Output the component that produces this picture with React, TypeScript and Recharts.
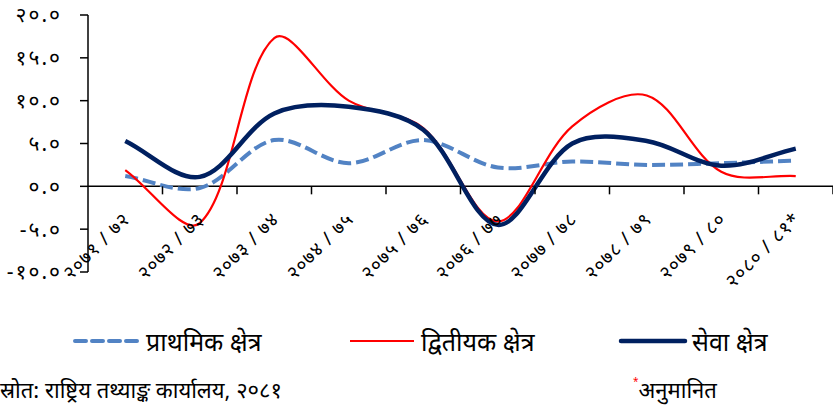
import { LineChart, Line, XAxis, YAxis, ReferenceLine, Legend } from 'recharts';

const categories = [
    '२०७१ / ७२',
    '२०७२ / ७३',
    '२०७३ / ७४',
    '२०७४ / ७५',
    '२०७५ / ७६',
    '२०७६ / ७७',
    '२०७७ / ७८',
    '२०७८ / ७९',
    '२०७९ / ८०',
    '२०८० / ८१*',
];

const primary = [1.2, -0.2, 5.4, 2.7, 5.4, 2.2, 2.9, 2.5, 2.7, 3.0];
const secondary = [1.9, -4.3, 17.3, 10.0, 6.8, -4.1, 7.0, 10.6, 1.7, 1.2];
const services = [5.3, 1.1, 8.5, 9.3, 6.6, -4.5, 5.0, 5.3, 2.4, 4.4];

const yTicks = [-10, -5, 0, 5, 10, 15, 20];
const yTickLabels = ['-१०.०', '-५.०', '०.०', '५.०', '१०.०', '१५.०', '२०.०'];

const seriesKeys = ['primary', 'secondary', 'services'];
const seriesNames = ['प्राथमिक क्षेत्र', 'द्वितीयक क्षेत्र', 'सेवा क्षेत्र'];
const sourceNote = 'स्रोत: राष्ट्रिय तथ्याङ्क कार्यालय, २०८१';
const estimateNote = 'अनुमानित';

const data = categories.map((name, i) => ({
    name,
    primary: primary[i],
    secondary: secondary[i],
    services: services[i],
}));

const W = 833;
const H = 412;
const TOP = 15;
const BOTTOM = 272;
const LEFT = 88;
const FONT = '"Noto Sans", "Noto Sans Devanagari", sans-serif';

const yMin = yTicks[0];
const yMax = yTicks[yTicks.length - 1];
const ZERO_Y = TOP + ((yMax - 0) / (yMax - yMin)) * (BOTTOM - TOP);
const STEP = (W - LEFT) / categories.length;

const styles: Record<string, { dash?: string; width: number; cap: 'butt' | 'round' }> = {
    primary: { dash: '11 6', width: 4, cap: 'round' },
    secondary: { width: 2.2, cap: 'butt' },
    services: { width: 4.5, cap: 'round' },
};

// Excel style smoothing: bezier with tangents scaled by neighbouring segment lengths
const excelCurve = (context: any) => {
    let pts: number[][] = [];
    return {
        areaStart() {},
        areaEnd() {},
        lineStart() {
            pts = [];
        },
        point(x: number, y: number) {
            pts.push([+x, +y]);
        },
        lineEnd() {
            if (!pts.length) return;
            const n = pts.length;
            const dist = (a: number[], b: number[]) => Math.hypot(b[0] - a[0], b[1] - a[1]);
            const ctrl = (i: number, dir: number) => {
                const p = pts[i];
                const prev = pts[Math.max(0, i - 1)];
                const next = pts[Math.min(n - 1, i + 1)];
                const tx = next[0] - prev[0];
                const ty = next[1] - prev[1];
                const dPrev = dist(prev, p);
                const dNext = dist(p, next);
                const sum = dPrev + dNext || 1;
                const f = dir > 0 ? dNext / sum : dPrev / sum;
                return [p[0] + (dir * tx * f) / 3, p[1] + (dir * ty * f) / 3];
            };
            context.moveTo(pts[0][0], pts[0][1]);
            for (let i = 0; i < n - 1; i++) {
                const c1 = ctrl(i, 1);
                const c2 = ctrl(i + 1, -1);
                context.bezierCurveTo(c1[0], c1[1], c2[0], c2[1], pts[i + 1][0], pts[i + 1][1]);
            }
        },
    };
};

const CategoryTick = (props: any) => {
    const { x, payload } = props;
    return (
        <g>
            <line x1={x + STEP / 2} x2={x + STEP / 2} y1={ZERO_Y} y2={ZERO_Y + 8} stroke="#000" strokeWidth={1.5} />
            <text
                transform={`translate(${x + 6},${ZERO_Y + 34}) rotate(-45)`}
                textAnchor="end"
                fontSize={19}
                letterSpacing={1}
                fontFamily={FONT}
                fill="#000"
            >
                {payload.value}
            </text>
        </g>
    );
};

const LegendContent = (props: any) => {
    const { payload } = props;
    const slots = [72, 347, 618];
    return (
        <div style={{ position: 'relative', height: 34, fontFamily: FONT, fontSize: 25, color: '#000' }}>
            {seriesKeys.map((key, i) => {
                const entry = (payload || []).find((p: any) => p.dataKey === key);
                const st = styles[key];
                return (
                    <div key={key} style={{ position: 'absolute', left: slots[i], top: 0, display: 'flex', alignItems: 'center' }}>
                        <svg width={70} height={10}>
                            <line
                                x1={3}
                                x2={67}
                                y1={5}
                                y2={5}
                                stroke={entry ? entry.color : '#000'}
                                strokeWidth={st.width}
                                strokeDasharray={st.dash}
                                strokeLinecap={st.cap}
                            />
                        </svg>
                        <span style={{ marginLeft: 4, whiteSpace: 'nowrap' }}>{entry ? entry.value : seriesNames[i]}</span>
                    </div>
                );
            })}
        </div>
    );
};

export default function App() {
    return (
        <div style={{ position: 'absolute', left: 0, top: 0, width: W, height: H, background: '#fff', overflow: 'hidden' }}>
            <LineChart width={W} height={H} data={data} margin={{ top: TOP, right: 0, bottom: H - BOTTOM - 1, left: 0 }}>
                <XAxis
                    dataKey="name"
                    axisLine={false}
                    tickLine={false}
                    height={1}
                    interval={0}
                    padding={{ left: STEP / 2, right: STEP / 2 }}
                    tick={<CategoryTick />}
                />
                <YAxis
                    width={LEFT}
                    domain={[yMin, yMax]}
                    ticks={yTicks}
                    interval={0}
                    tickFormatter={(v: number) => yTickLabels[yTicks.indexOf(v)]}
                    axisLine={{ stroke: '#000', strokeWidth: 1.5 }}
                    tickLine={{ stroke: '#000', strokeWidth: 1.5 }}
                    tickSize={8}
                    tickMargin={18}
                    tick={{ fill: '#000', fontSize: 21, fontFamily: FONT, letterSpacing: 2 }}
                />
                <ReferenceLine y={0} stroke="#000" strokeWidth={1.5} />
                <Legend
                    verticalAlign="middle"
                    align="center"
                    layout="horizontal"
                    wrapperStyle={{ top: 324, left: 0, width: W }}
                    content={<LegendContent />}
                />
                <Line
                    dataKey="primary"
                    name={seriesNames[0]}
                    type={excelCurve as any}
                    stroke="#5283C4"
                    strokeWidth={4}
                    strokeDasharray="13 5"
                    dot={false}
                    activeDot={false}
                    isAnimationActive={false}
                />
                <Line
                    dataKey="secondary"
                    name={seriesNames[1]}
                    type={excelCurve as any}
                    stroke="#FF0000"
                    strokeWidth={2.2}
                    dot={false}
                    activeDot={false}
                    isAnimationActive={false}
                />
                <Line
                    dataKey="services"
                    name={seriesNames[2]}
                    type={excelCurve as any}
                    stroke="#002060"
                    strokeWidth={4.5}
                    dot={false}
                    activeDot={false}
                    isAnimationActive={false}
                />
            </LineChart>
            <div style={{ position: 'absolute', left: 0, top: 374, fontFamily: FONT, fontSize: 22, color: '#000', whiteSpace: 'nowrap' }}>
                {sourceNote}
            </div>
            <div style={{ position: 'absolute', left: 633, top: 374, fontFamily: FONT, fontSize: 22, color: '#000', whiteSpace: 'nowrap' }}>
                <span style={{ color: '#FF0000', fontSize: 10, verticalAlign: 'top' }}>*</span>
                {estimateNote}
            </div>
        </div>
    );
}
